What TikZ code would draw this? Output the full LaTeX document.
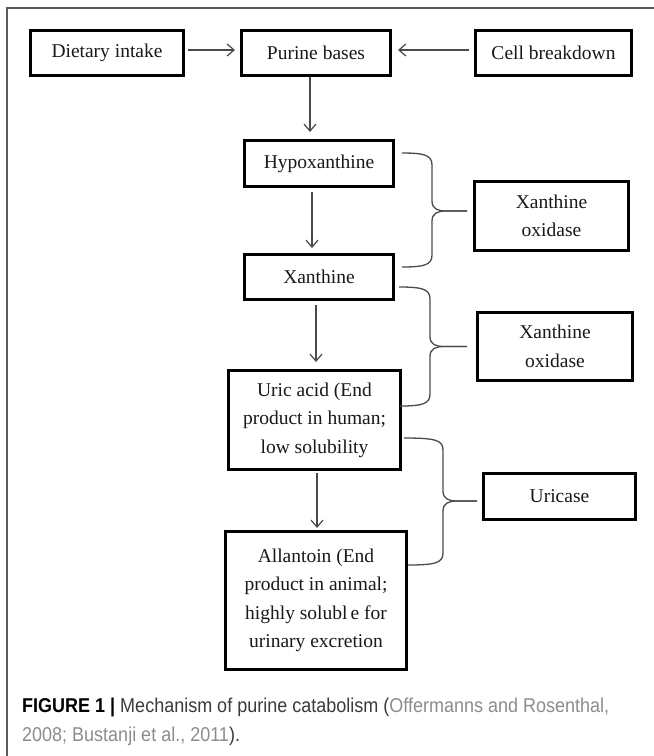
\documentclass[tikz,border=0pt]{standalone}
\usepackage{fontspec}
\setmainfont{Liberation Serif}
\newfontfamily\capfont{Liberation Sans}[FakeStretch=0.9]
\usetikzlibrary{arrows.meta,calc}
\definecolor{linegray}{HTML}{4A4A4A}
\definecolor{framegray}{HTML}{5A5A5A}
\definecolor{capdark}{HTML}{3A3A3A}
\definecolor{capgray}{HTML}{8C8C8C}
\tikzset{
  box/.style={draw=black, line width=3pt, fill=white, align=center, inner sep=0pt,
    text=black!90, font=\fontsize{19.5}{28.5}\selectfont},
  flow/.style={draw=linegray, line width=1.2pt,
    -{Straight Barb[length=7pt,width=12pt,line width=1.2pt]}},
  bracel/.style={draw=linegray, line width=1.3pt, line join=round},
  framel/.style={draw=framegray, line width=1.3pt},
  captext/.style={anchor=base west, inner sep=0pt, text=capdark,
    font=\capfont\fontsize{20}{29}\selectfont},
}
\newcommand\mybrace[5]{%
  \coordinate (#5) at ($(#3)+(-#4,0)$);
  \draw[bracel] (#1) .. controls ($(#1 -| #5)+(-8,0)$) and ($(#1 -| #5)+(0,2)$) .. ($(#1 -| #5)+(0,12)$)
    -- ($(#5)+(0,-10)$) .. controls ($(#5)+(0,-2)$) and ($(#5)+(6,0)$) .. ($(#5)+(14,0)$) -- (#3);
  \draw[bracel] (#3) -- ($(#5)+(14,0)$) .. controls ($(#5)+(6,0)$) and ($(#5)+(0,2)$) .. ($(#5)+(0,10)$)
    -- ($(#2 -| #5)+(0,-12)$) .. controls ($(#2 -| #5)+(0,-2)$) and ($(#2 -| #5)+(-8,0)$) .. (#2);
}
\begin{document}
\begin{tikzpicture}[x=1pt,y=-1pt]
\useasboundingbox (0,0) rectangle (654,756);
% frame
\coordinate (fa) at (7,756);
\coordinate (fb) at (7,8);
\coordinate (fc) at (654,8);
\draw[framel] (fa) -- (fb) -- (fc);

% boxes
\node[box, minimum width=153pt, minimum height=45pt] (diet) at (107,53) {Dietary intake};
\node[box, minimum width=149pt, minimum height=45pt] (pur) at (316,53) {Purine bases};
\node[box, minimum width=156pt, minimum height=45pt] (cell) at (553.5,53) {Cell breakdown};
\node[box, minimum width=149pt, minimum height=46pt] (hypo) at (319,163.5) {Hypoxanthine};
\node[box, minimum width=149pt, minimum height=45pt] (xan) at (319,277) {Xanthine};
\node[box, minimum width=172pt, minimum height=99pt] (uric) at (314.5,420) {Uric acid (End\\product in human;\\low solubility};
\node[box, minimum width=181pt, minimum height=138pt] (allan) at (316,600.5) {Allantoin (End\\product in animal;\\highly solubl\hspace{3pt}e for\\urinary excretion};
\node[box, minimum width=154pt, minimum height=69pt] (xo1) at (551.5,216) {Xanthine\\oxidase};
\node[box, minimum width=155pt, minimum height=68pt] (xo2) at (555,346.5) {Xanthine\\oxidase};
\node[box, minimum width=152pt, minimum height=46pt] (uri) at (559.5,496.5) {Uricase};

% flow arrows
\draw[flow] ([xshift=3pt,yshift=3pt]diet.east) -- ([xshift=-5pt,yshift=3pt]pur.west);
\draw[flow] ([xshift=-5pt,yshift=3pt]cell.west) -- ([xshift=6pt,yshift=3pt]pur.east);
\draw[flow, shorten >=7pt] ([xshift=-6pt]pur.south) -- ([xshift=-6pt]pur.south |- hypo.north);
\draw[flow, shorten >=5pt] ([xshift=-7pt,yshift=-4pt]hypo.south) -- ([xshift=-7pt]hypo.south |- xan.north);
\draw[flow, shorten >=7pt] ([xshift=-3pt,yshift=-4pt]xan.south) -- ([xshift=-3pt]xan.south |- uric.north);
\draw[flow, shorten >=2pt] ([xshift=2.5pt,yshift=-2pt]uric.south) -- ([xshift=2.5pt]uric.south |- allan.north);

% braces
\coordinate (b1t) at ([xshift=7pt,yshift=10.5pt]hypo.east);
\coordinate (b1b) at ([xshift=7pt,yshift=10pt]xan.east);
\coordinate (b1p) at ([xshift=-6pt,yshift=5pt]xo1.west);
\mybrace{b1t}{b1b}{b1p}{35}{s1}
\coordinate (b2t) at ([xshift=4pt,yshift=-10pt]xan.east);
\coordinate (b2b) at ([xshift=-2pt,yshift=14pt]uric.east);
\coordinate (b2p) at ([xshift=-9pt]xo2.west);
\mybrace{b2t}{b2b}{b2p}{37}{s2}
\coordinate (b3t) at ([xshift=2pt,yshift=-18pt]uric.east);
\coordinate (b3b) at ([yshift=35.5pt]allan.east);
\coordinate (b3p) at ([xshift=-5pt,yshift=-4.5pt]uri.west);
\mybrace{b3t}{b3b}{b3p}{34}{s3}

% caption
\node[captext] (cap1) at (22,712) {{\color{black}\textbf{FIGURE 1 |}} Mechanism of purine catabolism ({\color{capgray}Offermanns and Rosenthal,}};
\node[captext] (cap2) at (22,741) {{\color{capgray}2008; Bustanji et al., 2011}).};
\end{tikzpicture}
\end{document}
